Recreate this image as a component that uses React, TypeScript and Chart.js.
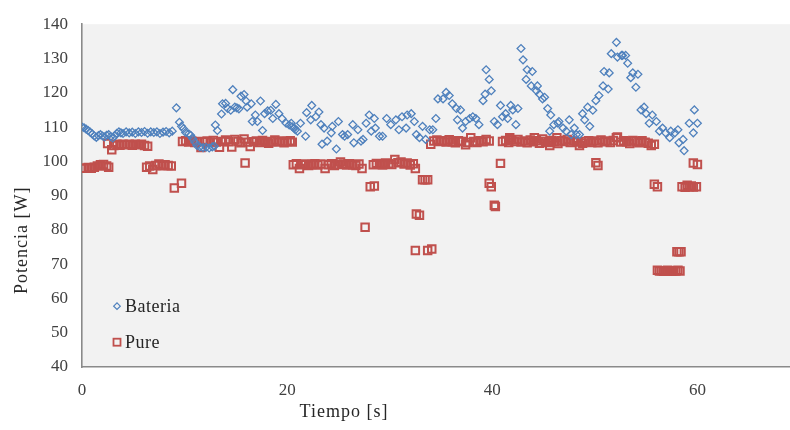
import React, { useEffect, useRef } from "react";
import { Chart, registerables } from "chart.js";

Chart.register(...registerables);

// Tiempo [s] / Potencia [W] samples
const bateriaPoints: [number, number][] = [
  [0.0, 110], [0.2, 109.8], [0.4, 109.4], [0.6, 109], [0.8, 108.5], [1.0, 108],
  [1.2, 107.4], [1.4, 107], [1.6, 107.5], [1.8, 107.8], [2.0, 107.4], [2.2, 107.1],
  [2.4, 107.6], [2.6, 107.8], [2.8, 107.2], [3.0, 106.8], [3.2, 107.4], [3.4, 108.2],
  [3.6, 108.6], [3.8, 108.3], [4.0, 108.1], [4.3, 108.6], [4.6, 108.3], [4.9, 108.5],
  [5.2, 108.1], [5.5, 108.6], [5.8, 108.4], [6.1, 108.7], [6.4, 108.2], [6.7, 108.6],
  [7.0, 108.4], [7.3, 108.6], [7.6, 108.1], [7.9, 108.5], [8.2, 108.7], [8.5, 108.3],
  [8.8, 108.8],
  [9.2, 115.6], [9.5, 111.4], [9.7, 110.2], [9.9, 109.5], [10.1, 108.4], [10.4, 108],
  [10.6, 107.6], [10.8, 106.6], [11.0, 105.6], [11.2, 104.6], [11.5, 104.2], [11.8, 104],
  [12.1, 104.1], [12.4, 103.9], [12.7, 104.2], [12.9, 104.4],
  [13.0, 110.6], [13.2, 109], [13.6, 113.8], [13.7, 116.8], [14.0, 116.9], [14.2, 115.4],
  [14.5, 114.9], [14.7, 120.9], [14.9, 115.8], [15.1, 115.6], [15.3, 115.3], [15.5, 119],
  [15.8, 119.5], [16.0, 117.6], [16.1, 115.8], [16.5, 116.8], [16.6, 111.6], [16.9, 113.5],
  [17.1, 111.6], [17.4, 117.6], [17.6, 109], [17.8, 113.9], [18.1, 114.7], [18.4, 114.9],
  [18.6, 112.5], [18.9, 116.6], [19.2, 113.9], [19.5, 112.5], [19.9, 111.1], [20.2, 110.6],
  [20.4, 111.1], [20.5, 110.1], [20.7, 109.7], [20.8, 109.2], [21.0, 108.8], [21.3, 111.1],
  [21.8, 107.3], [21.9, 114.2], [22.3, 112.1], [22.4, 116.3], [22.8, 113], [23.1, 114.4],
  [23.3, 110.7], [23.4, 105], [23.6, 109.7], [23.9, 105.9], [24.3, 108.3], [24.4, 110.2],
  [24.8, 103.6], [25.0, 111.6], [25.4, 107.8], [25.6, 107.3], [25.9, 107.8], [26.4, 110.7],
  [26.5, 105.4], [26.9, 109.2], [27.2, 105.9], [27.4, 106.4], [27.7, 111.1], [28.0, 113.5],
  [28.2, 108.8], [28.5, 112.5], [28.6, 109.7], [29.0, 107.3], [29.3, 107.3], [29.7, 112.5],
  [30.1, 110.7], [30.6, 112.1], [30.9, 109.2], [31.2, 113], [31.6, 109.7], [31.7, 113.5],
  [32.1, 113.9], [32.4, 111.6], [32.6, 107.8], [32.9, 106.9], [33.2, 110.2], [33.5, 106.4],
  [33.9, 109.2], [34.2, 109.2], [34.5, 112.5], [34.7, 118.2], [35.2, 118.2], [35.5, 120.1],
  [35.8, 119.2], [36.1, 116.8], [36.5, 115.4], [36.6, 112.1], [36.9, 115], [37.1, 109.7],
  [37.4, 111.6], [37.8, 112.5], [38.1, 113], [38.4, 112.5], [38.7, 110.7], [39.1, 117.7],
  [39.3, 119.6], [39.4, 126.7], [39.7, 123.9], [39.9, 120.6], [40.2, 111.6], [40.5, 110.7],
  [40.8, 116.3], [41.0, 113], [41.3, 113.9], [41.5, 112.5], [41.8, 116.3], [42.0, 115],
  [42.3, 110.7], [42.5, 115.4], [42.8, 132.9], [43.0, 129.6], [43.3, 123.9], [43.4, 126.7],
  [43.8, 122], [43.9, 126.2], [44.3, 120.6], [44.4, 122], [44.6, 119.6], [44.9, 118.2],
  [45.1, 118.7], [45.4, 115.4], [45.6, 108.8], [45.7, 113.5], [46.0, 110.7], [46.4, 111.1],
  [46.5, 111.6], [46.9, 109.7], [47.2, 108.8], [47.5, 112.1], [47.7, 107.8], [48.0, 109.7],
  [48.2, 107.8], [48.5, 107.8], [48.8, 113.9], [49.0, 112.1], [49.3, 115.8], [49.5, 110.2],
  [49.8, 114.9], [50.1, 117.7], [50.4, 119.2], [50.8, 122], [50.9, 126.2], [51.3, 121.1],
  [51.4, 125.8], [51.6, 131.4], [52.1, 134.7], [52.2, 130.4], [52.6, 130.9], [52.7, 130.9],
  [53.0, 130.9], [53.2, 128.6], [53.5, 124.4], [53.7, 125.8], [54.0, 121.6], [54.2, 125.4],
  [54.5, 115], [54.8, 115.8], [55.0, 113.9], [55.3, 111.1], [55.6, 113.5], [56.0, 111.6],
  [56.3, 108.8], [56.6, 109.7], [56.9, 108.3], [57.3, 106.9], [57.4, 108.8], [57.8, 108.3],
  [58.1, 109.2], [58.2, 105.4], [58.6, 106.4], [58.7, 103.1], [59.2, 111.1], [59.6, 108.3],
  [59.7, 115], [60.0, 111.1],
];

const purePoints: [number, number][] = [
  [0.0, 98], [0.3, 98], [0.6, 98.2], [0.9, 98], [1.2, 98.3], [1.5, 98.6], [1.8, 99],
  [2.1, 99.1], [2.4, 98.6], [2.6, 98.3],
  [2.5, 105.2], [2.9, 103.4], [3.1, 104.6], [3.4, 105], [3.7, 104.7], [4.0, 105],
  [4.3, 104.8], [4.6, 105], [4.9, 104.7], [5.2, 105], [5.5, 104.8], [5.8, 105],
  [6.1, 104.6], [6.4, 104.4],
  [6.3, 98.3], [6.6, 98.6], [6.9, 97.6], [7.2, 98.8], [7.5, 99.2], [7.8, 98.7],
  [8.1, 99], [8.4, 98.8], [8.7, 98.6],
  [9.0, 92.2], [9.7, 93.6],
  [9.8, 105.8], [10.1, 106], [10.4, 105.6], [10.7, 105.9], [11.0, 105.5], [11.3, 105.8],
  [11.6, 104], [11.9, 105.7], [12.2, 105.9], [12.5, 105.6], [12.8, 106.1], [13.1, 105.6],
  [13.4, 104.1], [13.7, 105.8], [14.0, 106.2], [14.3, 105.7], [14.6, 104.2], [14.9, 106.4],
  [15.2, 105.8], [15.5, 105.4], [15.8, 106.5], [15.9, 99.5], [16.1, 105.6], [16.4, 104.3],
  [16.7, 105.7], [17.0, 105.9], [17.3, 105.5], [17.6, 106.1], [17.9, 105.7], [18.2, 105.3],
  [18.5, 105.8], [18.8, 106.2], [19.1, 105.6], [19.4, 105.9], [19.7, 105.4], [20.0, 105.8],
  [20.3, 106], [20.5, 105.6],
  [20.6, 99], [20.9, 99.3], [21.2, 97.9], [21.5, 99], [21.8, 99.2], [22.1, 98.8],
  [22.4, 99.1], [22.7, 99.3], [23.0, 98.9], [23.3, 99.2], [23.7, 97.9], [24.0, 99],
  [24.3, 99.3], [24.6, 98.8], [24.9, 99.1], [25.2, 99.8], [25.5, 99.2], [25.8, 98.9],
  [26.1, 99.3], [26.4, 99], [26.7, 98.8], [27.0, 99.2], [27.3, 97.9],
  [27.6, 80.8], [28.1, 92.6], [28.5, 92.8],
  [28.4, 99], [28.7, 99.4], [29.0, 99.2], [29.3, 98.9], [29.6, 99.5], [29.9, 99.3],
  [30.2, 99.1], [30.5, 100.5], [30.8, 99.6], [31.1, 99.8], [31.4, 99.2], [31.7, 99.5],
  [32.0, 98.9], [32.3, 99.3], [32.5, 97.9],
  [32.6, 84.6], [32.9, 84.3], [32.5, 74], [33.7, 74], [34.1, 74.4],
  [33.2, 94.6], [33.45, 94.6], [33.7, 94.6],
  [34.0, 105], [34.3, 105.9], [34.6, 106.2], [34.9, 105.8], [35.2, 106], [35.5, 105.6],
  [35.8, 106.3], [36.1, 105.7], [36.4, 105.4], [36.7, 106], [37.0, 105.8], [37.4, 104.8],
  [37.6, 105.5], [37.9, 106.9], [38.2, 105.8], [38.5, 105.5], [38.8, 106], [39.1, 105.7],
  [39.4, 106.4], [39.7, 105.9],
  [39.7, 93.6], [39.9, 92.6], [40.2, 87.2], [40.3, 86.8], [40.8, 99.4],
  [41.0, 105.8], [41.3, 106.1], [41.6, 105.5], [41.7, 106.9], [41.9, 106.3], [42.2, 105.8],
  [42.5, 106.4], [42.8, 105.6], [43.1, 105.9], [43.4, 105.4], [43.7, 106.2], [44.0, 105.7],
  [44.1, 106.9], [44.3, 106], [44.6, 105.3], [44.9, 106.5], [45.2, 105.8], [45.5, 105.5],
  [45.6, 104.6], [45.8, 106.1], [46.1, 105.7], [46.3, 106.9], [46.4, 105.2], [46.7, 106],
  [47.0, 105.8], [47.3, 106.4], [47.6, 105.5], [47.9, 105.9], [48.2, 105.6], [48.5, 104.6],
  [48.8, 105.3], [49.1, 105.8], [49.4, 106], [49.7, 105.5], [50.0, 105.9], [50.3, 105.4],
  [50.6, 106.2], [50.9, 105.7], [51.2, 105.9], [51.5, 105.5], [51.8, 106.1], [52.1, 106.9],
  [52.2, 107.1], [52.5, 105.6], [52.8, 106], [53.1, 105.7], [53.4, 105.2], [53.7, 106.1],
  [54.0, 105.8], [54.3, 105.4], [54.6, 106], [54.9, 105.6], [55.2, 105.3], [55.5, 104.6],
  [55.8, 105],
  [50.1, 99.6], [50.3, 98.8], [55.8, 93.3], [56.1, 92.6],
  [56.1, 68.2], [56.3, 68], [56.5, 68.1], [56.7, 67.9], [56.9, 68], [57.1, 68.2],
  [57.3, 68], [57.5, 67.9], [57.7, 68.1], [57.9, 68], [58.1, 68.2], [58.3, 68],
  [58.0, 73.6], [58.2, 73.6], [58.4, 73.6],
  [58.5, 92.6], [58.8, 92.4], [59.0, 93], [59.2, 92.6], [59.4, 92.8], [59.6, 92.5],
  [59.9, 92.6],
  [59.6, 99.5], [60.0, 99.1],
];

const xTickValues = [0, 20, 40, 60];
const seriesNames = ["Bateria", "Pure"];
const xTitle = "Tiempo [s]";
const yTitle = "Potencia [W]";

const BLUE = "#4f81bd";
const RED = "#c0504d";
const SERIF = "'Liberation Serif', 'Times New Roman', serif";
const TEXT = "#404040";
const TITLE_TEXT = "#262626";
const AXIS_LINE = "#8a8a8a";

const plotBackground = {
  id: "plotBackground",
  beforeDraw(chart: any) {
    const { ctx, chartArea } = chart;
    ctx.save();
    ctx.fillStyle = "#f2f2f2";
    ctx.fillRect(chartArea.left, chartArea.top, chartArea.right - chartArea.left, chartArea.bottom - chartArea.top);
    ctx.restore();
  },
};

// axis titles and the in-plot legend
const annotations = {
  id: "annotations",
  afterDraw(chart: any) {
    const { ctx, chartArea } = chart;
    ctx.save();
    ctx.fillStyle = TITLE_TEXT;
    ctx.font = `18px ${SERIF}`;
    (ctx as any).letterSpacing = "1px";
    ctx.textBaseline = "middle";
    ctx.textAlign = "center";
    ctx.fillText(xTitle, chartArea.left + 262, chartArea.bottom + 45);
    ctx.translate(22, chartArea.top + 216);
    ctx.rotate(-Math.PI / 2);
    ctx.fillText(yTitle, 0, 0);
    ctx.restore();

    ctx.save();
    const lx = chartArea.left + 35;
    const rows = [chartArea.top + 282, chartArea.top + 318];
    // diamond marker
    ctx.strokeStyle = BLUE;
    ctx.lineWidth = 1.2;
    ctx.beginPath();
    ctx.moveTo(lx - 3.3, rows[0]);
    ctx.lineTo(lx, rows[0] - 3.3);
    ctx.lineTo(lx + 3.3, rows[0]);
    ctx.lineTo(lx, rows[0] + 3.3);
    ctx.closePath();
    ctx.stroke();
    // square marker
    ctx.strokeStyle = RED;
    ctx.lineWidth = 1.8;
    ctx.strokeRect(lx - 3.5, rows[1] - 3.5, 7, 7);
    ctx.fillStyle = TITLE_TEXT;
    ctx.font = `18px ${SERIF}`;
    (ctx as any).letterSpacing = "0.5px";
    ctx.textAlign = "left";
    ctx.textBaseline = "middle";
    ctx.fillText(seriesNames[0], lx + 8, rows[0] + 1);
    ctx.fillText(seriesNames[1], lx + 8, rows[1] + 1);
    ctx.restore();
  },
};

export default function App() {
  const canvasRef = useRef<HTMLCanvasElement | null>(null);

  useEffect(() => {
    const canvas = canvasRef.current;
    if (!canvas) return;
    const chart = new Chart(canvas, {
      type: "scatter",
      data: {
        datasets: [
          {
            label: seriesNames[0],
            data: bateriaPoints.map(([x, y]) => ({ x, y })),
            pointStyle: "rectRot",
            pointRadius: 3.9,
            borderWidth: 1.3,
            borderColor: BLUE,
            backgroundColor: "rgba(255,255,255,0)",
          },
          {
            label: seriesNames[1],
            data: purePoints.map(([x, y]) => ({ x, y })),
            pointStyle: "rect",
            pointRadius: 5.3,
            borderWidth: 2,
            borderColor: RED,
            backgroundColor: "rgba(255,255,255,0)",
          },
        ],
      },
      options: {
        responsive: false,
        animation: false,
        events: [],
        layout: { padding: { left: 0, top: 15, right: 20, bottom: 0 } },
        plugins: {
          legend: { display: false },
          tooltip: { enabled: false },
          title: { display: false },
        },
        scales: {
          x: {
            type: "linear",
            min: 0,
            max: 70,
            afterBuildTicks: (scale: any) => {
              scale.ticks = xTickValues.map((value) => ({ value }));
            },
            afterFit: (scale: any) => {
              scale.height = 63;
            },
            grid: { display: false, drawTicks: false },
            border: { display: true, color: AXIS_LINE, width: 1.6 },
            ticks: {
              padding: 13,
              color: TEXT,
              font: { family: SERIF, size: 17 },
              maxRotation: 0,
            },
          },
          y: {
            type: "linear",
            min: 40,
            max: 140,
            afterFit: (scale: any) => {
              scale.width = 82;
            },
            grid: { display: false, drawTicks: false },
            border: { display: true, color: AXIS_LINE, width: 1.6 },
            ticks: {
              stepSize: 10,
              padding: 14,
              color: TEXT,
              font: { family: SERIF, size: 17 },
            },
          },
        },
      },
      plugins: [plotBackground, annotations],
    });
    return () => chart.destroy();
  }, []);

  return (
    <div
      style={{
        position: "fixed",
        left: 0,
        top: 0,
        width: 790,
        height: 430,
        overflow: "hidden",
        background: "#ffffff",
      }}
    >
      <canvas ref={canvasRef} width={820} height={430} style={{ display: "block" }} />
    </div>
  );
}
